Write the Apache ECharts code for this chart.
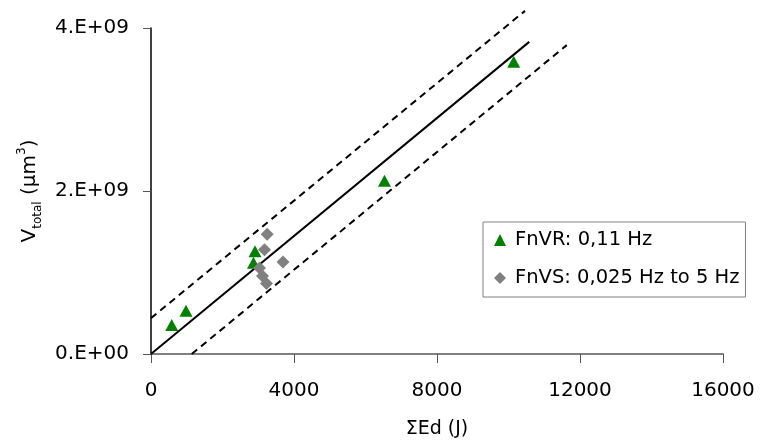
<!DOCTYPE html>
<html>
<head>
<meta charset="utf-8">
<script src="https://cdn.jsdelivr.net/npm/echarts@6/dist/echarts.min.js"></script>
<style>
html,body{margin:0;padding:0;background:#fff;}
#chart{width:760px;height:448px;}
</style>
</head>
<body>
<div id="chart"></div>
<script>
// ---- data ----
var seriesNames = ['FnVR: 0,11 Hz', 'FnVS: 0,025 Hz to 5 Hz'];
var fnvrX = [579, 979, 2909, 2867, 6531, 10146];
var fnvrY = [0.356e9, 0.531e9, 1.26e9, 1.12e9, 2.127e9, 3.587e9];
var fnvsX = [3250, 3175, 3035, 3119, 3231, 3692];
var fnvsY = [1.47e9, 1.28e9, 1.055e9, 0.957e9, 0.865e9, 1.129e9];
var fitX = [0, 10580];
var fitY = [0, 3.83e9];
var upperX = [0, 10460];
var upperY = [0.44e9, 4.21e9];
var lowerX = [1140, 11630];
var lowerY = [0, 3.79e9];
var xTickLabels = ['0', '4000', '8000', '12000', '16000'];
var yTickLabels = ['0.E+00', '2.E+09', '4.E+09'];

function pairs(xs, ys) { return xs.map(function (x, i) { return [x, ys[i]]; }); }

var FONT = 'DejaVu Sans';
var chart = echarts.init(document.getElementById('chart'), null, {renderer: 'canvas'});
chart.setOption({
  animation: false,
  backgroundColor: '#ffffff',
  grid: {left: 151, right: 37, top: 28, bottom: 94, containLabel: false},
  xAxis: {
    type: 'value', min: 0, max: 16000, interval: 4000,
    name: 'ΣEd (J)', nameLocation: 'middle', nameGap: 66,
    nameTextStyle: {fontFamily: FONT, fontSize: 19, color: '#000'},
    axisLine: {show: true, onZero: false, lineStyle: {color: '#808080', width: 2}},
    axisTick: {show: true, inside: false, length: 9, lineStyle: {color: '#555', width: 1}},
    axisLabel: {margin: 27, fontFamily: FONT, fontSize: 20, color: '#000',
      formatter: function (v) { return xTickLabels[Math.round(v / 4000)]; }},
    splitLine: {show: false}
  },
  yAxis: {
    type: 'value', min: 0, max: 4e9, interval: 2e9,
    name: '{m|V}{sub|total}{m| (µm}{sup|3}{m|)}', nameLocation: 'middle', nameGap: 104, nameRotate: 90,
    nameTextStyle: {
      fontFamily: FONT, fontSize: 20, color: '#000',
      rich: {
        m: {fontFamily: FONT, fontSize: 20, color: '#000', lineHeight: 28, verticalAlign: 'middle'},
        sub: {fontFamily: FONT, fontSize: 12, color: '#000', lineHeight: 14, verticalAlign: 'bottom'},
        sup: {fontFamily: FONT, fontSize: 12, color: '#000', lineHeight: 16, verticalAlign: 'top'}
      }
    },
    axisLine: {show: true, onZero: false, lineStyle: {color: '#000', width: 1.5}},
    axisTick: {show: true, inside: false, length: 8, lineStyle: {color: '#555', width: 1}},
    axisLabel: {margin: 22, fontFamily: FONT, fontSize: 20, color: '#000',
      formatter: function (v) { return yTickLabels[Math.round(v / 2e9)]; }},
    splitLine: {show: false}
  },
  legend: {
    data: seriesNames,
    orient: 'vertical', left: 483, top: 222,
    padding: [8, 6, 9, 11],
    itemWidth: 12, itemHeight: 12, itemGap: 18,
    borderColor: '#808080', borderWidth: 1, backgroundColor: '#fff',
    textStyle: {fontFamily: FONT, fontSize: 19.5, color: '#000', lineHeight: 20, padding: [0, 0, 0, 4]}
  },
  series: [
    {type: 'line', name: 'fit', data: pairs(fitX, fitY), symbol: 'none', clip: false, z: 1,
      lineStyle: {color: '#000', width: 2, type: 'solid'}, silent: true},
    {type: 'line', name: 'upper', data: pairs(upperX, upperY), symbol: 'none', clip: false, z: 1,
      lineStyle: {color: '#000', width: 2, type: [7, 5]}, silent: true},
    {type: 'line', name: 'lower', data: pairs(lowerX, lowerY), symbol: 'none', clip: false, z: 1,
      lineStyle: {color: '#000', width: 2, type: [7, 5]}, silent: true},
    {type: 'scatter', name: seriesNames[0], data: pairs(fnvrX, fnvrY), symbol: 'triangle', symbolSize: [13, 12], z: 3,
      itemStyle: {color: '#008000', opacity: 1}},
    {type: 'scatter', name: seriesNames[1], data: pairs(fnvsX, fnvsY), symbol: 'diamond', symbolSize: 13, z: 4,
      itemStyle: {color: '#808080', opacity: 1}}
  ]
});
</script>
</body>
</html>
